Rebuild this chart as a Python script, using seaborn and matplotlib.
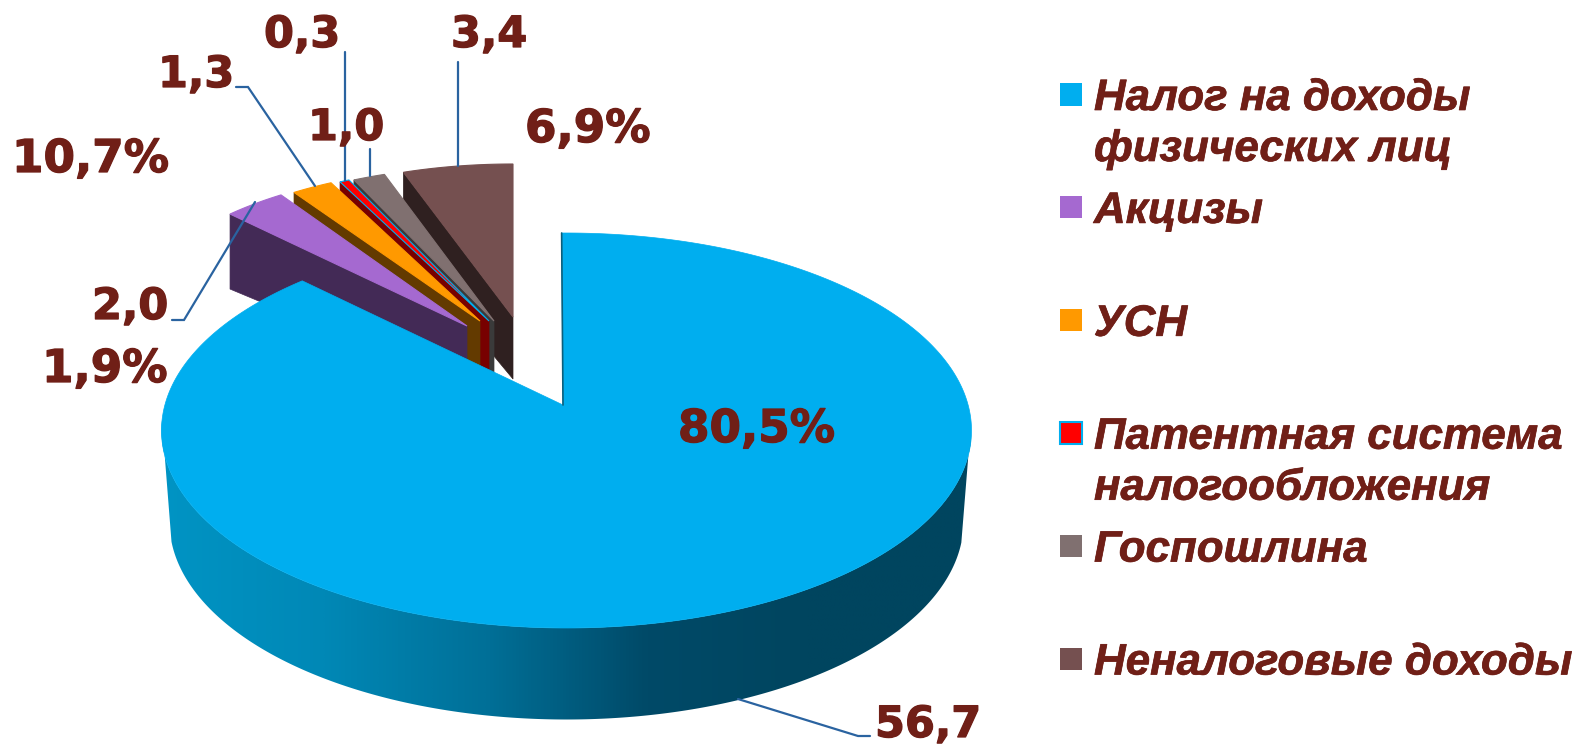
import numpy as np
import matplotlib
matplotlib.use("Agg")
import matplotlib.pyplot as plt
import matplotlib.patheffects as pe
import seaborn as sns
from matplotlib.patches import Polygon, Rectangle

# data
categories = ["Налог на доходы\nфизических лиц", "Акцизы", "УСН",
              "Патентная система\nналогообложения", "Госпошлина", "Неналоговые доходы"]
values = [56.7, 2.0, 1.3, 0.3, 1.0, 3.4]
value_labels = ["56,7", "2,0", "1,3", "0,3", "1,0", "3,4"]
percent_labels = ["80,5%", "1,9%", "10,7%", "6,9%"]

slice_colors = sns.color_palette(["#00AEEF", "#A569D0", "#FF9900", "#FF0000", "#807070", "#755050"])
wall_colors = ["#00455F", "#432A56", "#633A00", "#780000", "#3A3A3A", "#2F2020"]
text_color = "#701F17"
leader_color = "#2A63A0"

sns.set_theme(style="white")
fig = plt.figure(figsize=(15.76, 7.44), dpi=100)
ax = fig.add_axes([0, 0, 1, 1])
ax.set_xlim(0, 1576)
ax.set_ylim(744, 0)
ax.axis("off")

# angles clockwise from 12 o'clock
edges = np.concatenate([[0], np.cumsum(values)]) / np.sum(values) * 2 * np.pi


def rim(apex, rx, ry, theta):
    return np.column_stack([apex[0] + rx * np.sin(theta), apex[1] - ry * np.cos(theta)])


# pulled out slices, back to front
apexes = [None, (467, 326), (480, 321), (489, 321), (494, 321), (513, 317)]
radii_y = [None, 157, 154, 155, 155, 153]
RX = 338
for i in [5, 4, 3, 2, 1]:
    theta = np.linspace(edges[i], edges[i + 1], 30)
    arc = rim(apexes[i], RX, radii_y[i], theta)
    apex = np.array(apexes[i], dtype=float)
    wall = [arc[0], apex, apex + [0, 62], arc[0] + [0, 75]]
    ax.add_patch(Polygon(wall, closed=True, fc=wall_colors[i], ec=wall_colors[i], lw=0.5, zorder=2))
    top = np.vstack([[apex], arc])
    edge = "#00AEEF" if i == 3 else slice_colors[i]
    ax.add_patch(Polygon(top, closed=True, fc=slice_colors[i], ec=edge, lw=0.8, zorder=2))

# main slice, the rim is a gradient image clipped to the side of the pie
main_apex = (563, 405)
persp = 1.012
theta = np.linspace(edges[0] - 0.012, edges[1] * persp, 600)
top_rim = rim((566.5, 430.5), 405, 197.5, theta)
bot_rim = rim((566.5, 522), 397, 197.5, theta)
side_cmap = sns.blend_palette(["#0094C4", "#0088B6", "#007098", "#004A68", "#00455F", "#00455F"], as_cmap=True)
upper = np.cos(theta) < 0.05
lower = np.cos(theta) < -0.1
side = Polygon(np.vstack([top_rim[upper], bot_rim[lower][::-1]]), closed=True, fc="none", ec="none",
               transform=ax.transData)
ax.add_patch(side)
grad = ax.imshow(np.linspace(0, 1, 806)[None, :], extent=(161, 971, 730, 420), cmap=side_cmap,
                 aspect="auto", zorder=3, interpolation="bilinear")
grad.set_clip_path(side)
ax.set_xlim(0, 1576)
ax.set_ylim(744, 0)

ax.add_patch(Polygon(np.vstack([[main_apex], top_rim]), closed=True, fc=slice_colors[0],
                     ec=slice_colors[0], lw=0.5, zorder=4))
ax.plot([top_rim[0][0], main_apex[0]], [top_rim[0][1], main_apex[1]], color="#0B5F7C", lw=1.2, zorder=5)

# leader lines
leaders = [([345, 345], [52, 181]),
           ([458, 458], [62, 166]),
           ([370, 370], [149, 176]),
           ([236, 248, 315], [87, 87, 186]),
           ([172, 184, 255], [320, 320, 202]),
           ([738, 858, 870], [699, 736, 736])]
for xs, ys in leaders:
    ax.plot(xs, ys, color=leader_color, lw=1.6, zorder=6, solid_joinstyle="miter")

# data labels
heavy = [pe.withStroke(linewidth=0.9, foreground=text_color)]
value_pos = [(875, 737), (92, 319), (158, 87), (264, 47), (308, 140), (451, 47)]
percent_pos = [(678, 442), (42, 382), (12, 172), (525, 142)]
for lab, (x, y) in zip(value_labels, value_pos):
    ax.text(x, y, lab, fontsize=31, fontweight="bold", family="DejaVu Sans", color=text_color,
            ha="left", va="baseline", zorder=7, path_effects=heavy)
for lab, (x, y) in zip(percent_labels, percent_pos):
    ax.text(x, y, lab, fontsize=32.6, fontweight="bold", family="DejaVu Sans", color=text_color,
            ha="left", va="baseline", zorder=7, path_effects=heavy)

# legend
thin = [pe.withStroke(linewidth=0.5, foreground=text_color)]
for i, name in enumerate(categories):
    y0 = 83 + 112.9 * i
    edge = "#00AEEF" if i == 3 else slice_colors[i]
    ax.add_patch(Rectangle((1060, y0), 22, 22.5, fc=slice_colors[i], ec=edge,
                           lw=1.5 if i == 3 else 0, zorder=7))
    for j, line in enumerate(name.split("\n")):
        ax.text(1094, y0 + 27 + 51 * j, line, fontsize=31.6, fontweight="bold", style="italic",
                family="Liberation Sans", color=text_color, ha="left", va="baseline", zorder=7,
                path_effects=thin)

fig.savefig("out.png", dpi=100, facecolor="white")
